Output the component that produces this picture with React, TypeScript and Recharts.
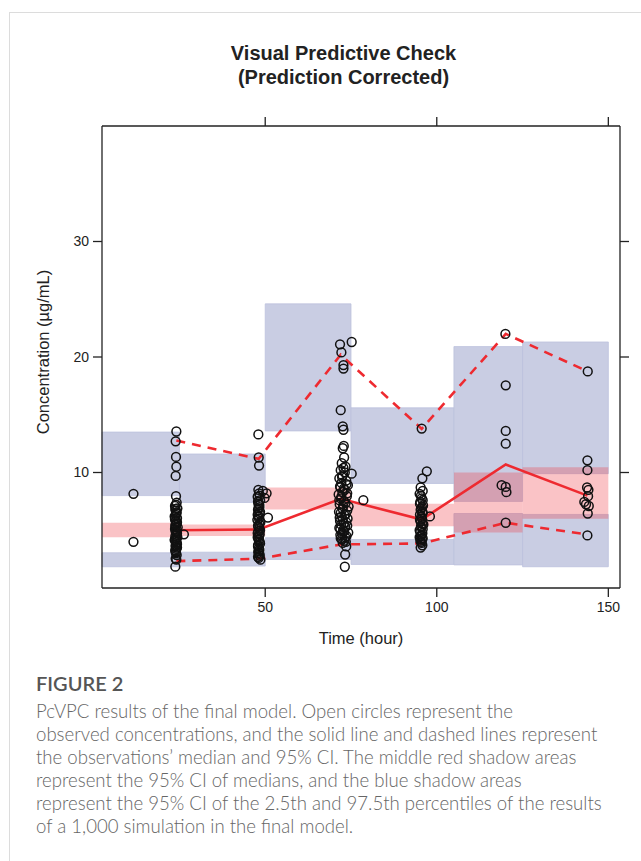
import React from "react";
import { ComposedChart, XAxis, YAxis, Line, Scatter, ReferenceArea } from "recharts";

const X_MIN = 2.43;
const X_MAX = 153.4;
const xTicks = [50, 100, 150];
const yTicks = [10, 20, 30];

// time bins (hour)
const binEdges = [X_MIN, 25, 50, 75, 105, 125, 150];
// blue: 95% CI of simulated 97.5th percentile
const upperLo = [8.0, 7.4, 13.6, 9.05, 7.5, 9.9];
const upperHi = [13.5, 11.6, 24.6, 15.6, 20.9, 21.3];
// blue: 95% CI of simulated 2.5th percentile
const lowerLo = [1.84, 1.9, 2.47, 2.04, 2.0, 1.84];
const lowerHi = [3.05, 3.1, 4.35, 4.2, 6.45, 6.37];
// red: 95% CI of simulated median
const medLo = [4.4, 4.5, 6.8, 5.35, 4.8, 6.0];
const medHi = [5.65, 5.5, 8.7, 7.3, 10.0, 10.45];

// observed statistics per bin
const binTime = [24.1, 48.1, 72.0, 95.6, 120.1, 143.9];
const obsMedian = [5.0, 5.07, 7.72, 5.93, 10.7, 8.0];
const obsP975 = [12.77, 11.18, 20.2, 13.78, 22.0, 18.76];
const obsP025 = [2.33, 2.53, 3.77, 3.86, 5.65, 4.64];

// observed concentrations [time, conc]
const obs12 = [[11.6, 8.15], [11.6, 4.0]];
const obs24 = [
  [24.1, 13.55], [23.9, 12.7], [24.0, 11.35], [24.1, 10.5], [23.9, 9.7], [24.0, 7.95],
  [24.2, 7.4], [23.7, 7.1], [24.4, 6.9], [23.9, 6.7], [24.1, 6.45], [23.6, 6.2],
  [24.3, 6.05], [23.9, 5.8], [24.2, 5.6], [23.8, 5.45], [24.5, 5.25], [23.7, 5.1],
  [24.0, 4.9], [24.3, 4.75], [23.8, 4.5], [24.1, 4.3], [23.6, 4.15], [24.2, 3.95],
  [23.9, 3.7], [24.3, 3.5], [23.8, 3.3], [24.0, 3.1], [24.2, 2.85], [23.9, 2.55],
  [24.1, 2.45], [23.8, 1.85], [26.3, 4.65],
  [24.0, 7.2], [23.8, 6.85], [24.2, 6.55], [24.0, 6.3], [23.7, 5.95], [24.3, 5.7],
  [24.0, 5.5], [23.8, 5.3], [24.2, 5.05], [23.9, 4.85], [24.1, 4.6], [24.4, 4.4],
  [23.7, 4.2], [24.0, 4.05], [24.3, 3.8], [23.9, 3.6], [24.1, 3.4], [23.8, 3.2], [24.0, 3.0],
];
const obs48 = [
  [48.0, 13.3], [48.1, 11.3], [48.2, 10.6], [48.0, 8.5], [49.3, 8.4], [50.4, 8.2],
  [48.4, 8.0], [49.8, 7.8], [47.9, 7.5], [48.3, 7.2], [48.0, 6.9], [50.8, 6.1],
  [48.5, 6.6], [47.8, 6.35], [48.2, 6.0], [48.6, 5.7], [47.9, 5.4], [48.3, 5.15],
  [48.0, 4.9], [48.4, 4.65], [47.8, 4.4], [48.2, 4.15], [48.5, 3.85], [47.9, 3.6],
  [48.3, 3.3], [48.0, 3.05], [48.4, 2.8], [48.1, 2.6], [48.6, 2.45],
  [48.2, 8.2], [47.8, 7.9], [48.5, 7.6], [48.0, 7.3], [48.3, 7.0], [47.9, 6.75],
  [48.4, 6.45], [48.1, 6.2], [47.7, 5.9], [48.3, 5.55], [48.0, 5.3], [48.5, 5.0],
  [47.8, 4.75], [48.2, 4.5], [48.0, 4.25], [48.4, 4.0], [47.9, 3.7], [48.2, 3.45],
  [48.0, 3.2], [48.3, 2.95], [47.9, 2.7],
];
const obs72 = [
  [71.8, 21.1], [75.2, 21.3], [72.2, 20.4], [72.8, 19.3], [72.8, 19.0], [72.0, 15.4],
  [72.6, 14.0], [72.8, 13.7], [72.9, 12.3], [72.6, 12.1], [73.0, 11.3], [72.3, 10.8],
  [73.4, 10.5], [72.0, 10.2], [75.2, 9.9], [72.5, 9.75], [71.6, 9.5], [73.6, 9.3],
  [72.2, 9.1], [74.1, 8.9], [71.9, 8.7], [73.2, 8.5], [72.5, 8.3], [71.4, 8.1],
  [73.8, 7.95], [72.1, 7.75], [73.0, 7.5], [71.7, 7.25], [74.3, 7.05], [72.6, 6.85],
  [71.5, 6.6], [73.5, 6.4], [72.3, 6.2], [74.0, 6.0], [71.8, 5.8], [72.9, 5.6],
  [73.9, 5.4], [71.6, 5.2], [72.7, 5.0], [74.2, 4.8], [71.9, 4.6], [73.3, 4.4],
  [72.4, 4.2], [73.5, 4.0], [73.6, 3.6], [73.3, 2.9], [73.2, 1.84], [78.6, 7.6],
  [72.8, 10.4], [73.2, 10.0], [72.4, 9.6], [73.7, 9.0], [71.8, 8.8], [72.9, 8.6],
  [73.9, 8.2], [72.2, 7.9], [71.6, 7.6], [73.4, 7.35], [72.7, 7.1], [73.9, 6.7],
  [72.0, 6.5], [73.1, 6.3], [71.7, 6.1], [72.6, 5.9], [73.6, 5.7], [72.1, 5.5],
  [73.3, 5.3], [71.9, 5.1], [73.0, 4.9], [72.4, 4.7], [73.7, 4.5], [72.0, 4.3],
  [73.1, 4.1], [72.6, 3.9],
];
const obs96 = [
  [95.6, 13.8], [97.1, 10.1], [95.8, 9.5], [95.3, 8.7], [95.9, 8.4], [95.0, 8.15],
  [95.6, 7.75], [95.2, 7.45], [96.0, 7.15], [95.4, 6.9], [95.8, 6.6], [98.0, 6.2],
  [95.1, 6.35], [95.7, 6.0], [95.3, 5.75], [96.1, 5.5], [95.5, 5.25], [95.0, 5.0],
  [95.8, 4.75], [95.4, 4.5], [95.9, 4.3], [95.2, 4.1], [95.6, 3.9], [95.3, 3.5],
  [95.4, 8.0], [95.9, 7.6], [95.1, 7.3], [95.7, 7.0], [95.3, 6.75], [95.9, 6.5],
  [95.5, 6.15], [95.1, 5.9], [95.8, 5.6], [95.4, 5.35], [95.9, 5.1], [95.2, 4.85],
  [95.6, 4.6], [95.0, 4.4], [95.7, 4.2], [95.4, 4.0], [95.8, 3.7],
];
const obs120 = [
  [120.0, 22.0], [120.1, 17.55], [120.1, 13.6], [120.1, 12.5], [118.9, 8.9],
  [120.1, 8.75], [120.3, 8.3], [120.1, 5.65],
];
const obs144 = [
  [144.0, 18.75], [143.9, 11.05], [143.9, 10.2], [143.8, 8.7], [144.2, 8.5],
  [144.1, 7.95], [143.0, 7.45], [143.5, 7.25], [144.3, 7.1], [144.0, 6.45], [143.9, 4.55],
];

const captionLines = [
  "PcVPC results of the final model. Open circles represent the",
  "observed concentrations, and the solid line and dashed lines represent",
  "the observations\u2019 median and 95% CI. The middle red shadow areas",
  "represent the 95% CI of medians, and the blue shadow areas",
  "represent the 95% CI of the 2.5th and 97.5th percentiles of the results",
  "of a 1,000 simulation in the final model.",
];

const points = [...obs12, ...obs24, ...obs48, ...obs72, ...obs96, ...obs120, ...obs144].map(
  ([x, y]) => ({ x, y })
);
const toLine = (vals: number[]) => binTime.map((x, i) => ({ x, y: vals[i] }));

const BLUE = "#c9cde3";
const RED = "#ee2a30";
const AXIS = "#222";
const FONT = "'Liberation Sans', Arial, sans-serif";

const OpenCircle = (p: any) => (
  <circle cx={p.cx} cy={p.cy} r={4.4} fill="none" stroke="#111" strokeWidth={1.5} />
);
const NoLabel = () => <g />;

export default function App() {
  const bins = binEdges.slice(0, -1).map((x1, i) => ({ x1, x2: binEdges[i + 1] }));
  const axisStyle = { stroke: AXIS, strokeWidth: 1.3 };

  return (
    <div style={{ position: "fixed", left: 0, top: 0, width: 641, height: 861, overflow: "hidden", background: "#fff" }}>
      <div style={{ position: "absolute", left: 9, top: 12, width: 700, height: 900, borderTop: "1px solid #dcdcdc", borderLeft: "1px solid #dcdcdc" }} />

      <div style={{ position: "absolute", left: 343.5, top: 41, transform: "translateX(-50%)", fontFamily: FONT, fontWeight: 700, fontSize: 20, lineHeight: "24px", textAlign: "center", color: "#222", whiteSpace: "nowrap" }}>
        <div>Visual Predictive Check</div>
        <div>(Prediction Corrected)</div>
      </div>

      <div style={{ position: "absolute", left: 0, top: 0 }}>
        <ComposedChart width={641} height={660} margin={{ top: 116, right: 11, bottom: 32, left: 0 }}>
          <XAxis dataKey="x" type="number" domain={[X_MIN, X_MAX]} ticks={xTicks} allowDataOverflow
            height={40} tickSize={9} tickMargin={5} axisLine={axisStyle} tickLine={axisStyle}
            tick={{ fontSize: 14, fill: AXIS, fontFamily: FONT }} />
          <XAxis xAxisId="top" orientation="top" dataKey="x" type="number" domain={[X_MIN, X_MAX]} ticks={xTicks}
            allowDataOverflow height={10} tickSize={9} tick={NoLabel} axisLine={axisStyle} tickLine={axisStyle} />
          <YAxis type="number" domain={[0, 40]} ticks={yTicks} allowDataOverflow width={102} tickSize={9} tickMargin={4}
            axisLine={axisStyle} tickLine={axisStyle} tick={{ fontSize: 14, fill: AXIS, fontFamily: FONT }} />
          <YAxis yAxisId="right" orientation="right" type="number" domain={[0, 40]} ticks={yTicks} allowDataOverflow
            width={10} tickSize={9} tick={NoLabel} axisLine={axisStyle} tickLine={axisStyle} />

          {bins.map((b, i) => (
            <ReferenceArea key={"u" + i} x1={b.x1} x2={b.x2} y1={upperLo[i]} y2={upperHi[i]}
              fill={BLUE} fillOpacity={1} stroke="#bcc2dd" strokeWidth={0.8} />
          ))}
          {bins.map((b, i) => (
            <ReferenceArea key={"l" + i} x1={b.x1} x2={b.x2} y1={lowerLo[i]} y2={lowerHi[i]}
              fill={BLUE} fillOpacity={1} stroke="#bcc2dd" strokeWidth={0.8} />
          ))}
          {bins.map((b, i) => (
            <ReferenceArea key={"m" + i} x1={b.x1} x2={b.x2} y1={medLo[i]} y2={medHi[i]}
              fill="#f03c46" fillOpacity={0.31} stroke="none" />
          ))}

          <Scatter data={points} dataKey="y" shape={OpenCircle} isAnimationActive={false} />
          <Line data={toLine(obsP975)} dataKey="y" stroke={RED} strokeWidth={2.6} strokeDasharray="9 7"
            dot={false} activeDot={false} isAnimationActive={false} />
          <Line data={toLine(obsP025)} dataKey="y" stroke={RED} strokeWidth={2.6} strokeDasharray="9 7"
            dot={false} activeDot={false} isAnimationActive={false} />
          <Line data={toLine(obsMedian)} dataKey="y" stroke={RED} strokeWidth={2.6}
            dot={false} activeDot={false} isAnimationActive={false} />
        </ComposedChart>
      </div>

      <div style={{ position: "absolute", left: 43, top: 352, transform: "translate(-50%, -50%) rotate(-90deg)", fontFamily: FONT, fontSize: 16.5, color: "#222", whiteSpace: "nowrap" }}>
        Concentration (µg/mL)
      </div>
      <div style={{ position: "absolute", left: 361, top: 638, transform: "translate(-50%, -50%)", fontFamily: FONT, fontSize: 16.5, color: "#222", whiteSpace: "nowrap" }}>
        Time (hour)
      </div>

      <div style={{ position: "absolute", left: 36, top: 671, fontFamily: "Lato, sans-serif", fontWeight: 600, fontSize: 20, lineHeight: "24px", color: "#555", whiteSpace: "nowrap" }}>
        FIGURE 2
      </div>
      <div style={{ position: "absolute", left: 36, top: 699.5, fontFamily: "Lato, sans-serif", fontWeight: 300, fontSize: 18.6, lineHeight: "23px", color: "#666" }}>
        {captionLines.map((t) => (
          <div key={t} style={{ whiteSpace: "nowrap" }}>{t}</div>
        ))}
      </div>
    </div>
  );
}
